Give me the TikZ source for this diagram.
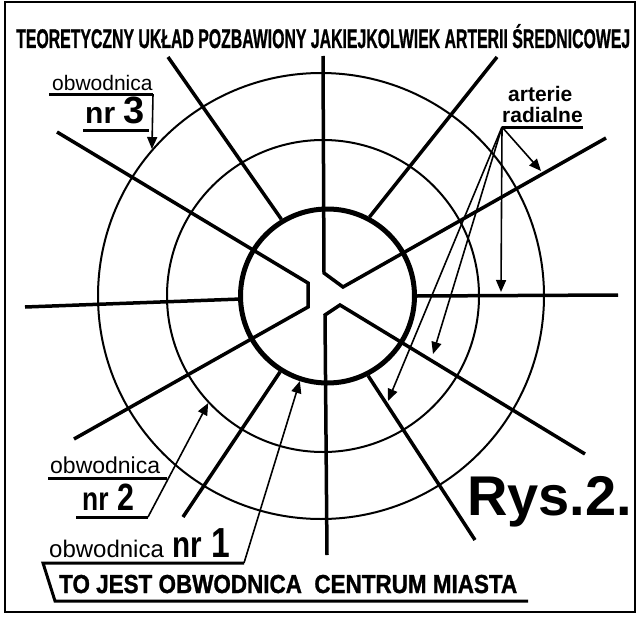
\documentclass[tikz,border=0pt]{standalone}
\usepackage{fontspec}
\usepackage{graphicx}
\setmainfont{Liberation Sans}
\newfontfamily\narrowfont[FakeStretch=0.8]{Liberation Sans}
\newfontfamily\heavyfont[FakeBold=1.2]{Liberation Sans Bold}
\usetikzlibrary{arrows.meta}
\newcommand{\fs}[1]{\fontsize{#1}{#1}\selectfont}
\newcommand{\squeeze}[2]{\resizebox{#1}{\height}{#2}}
\tikzset{
  ring/.style={circle,draw,line width=2pt,inner sep=0pt},
  centrering/.style={circle,draw,line width=5pt,inner sep=0pt},
  artery/.style={line width=3.5pt},
  underline/.style={line width=3pt},
  pointer/.style={line width=1.6pt,-{Triangle[length=12pt,width=10pt]}},
  lbl/.style={anchor=base west,inner sep=0pt},
}

\begin{document}
\begin{tikzpicture}[x=1pt,y=-1pt]
  \useasboundingbox (0,0) rectangle (640,618);
  \draw[line width=2.5pt] (5,2) rectangle (635,612);
  \node[lbl] (title) at (16,48)
    {\squeeze{614pt}{\heavyfont\fs{27}TEORETYCZNY UKŁAD POZBAWIONY JAKIEJKOLWIEK ARTERII ŚREDNICOWEJ}};

  % --- ring roads ---
  \node[centrering,minimum size=174pt] (ring1) at (327.5,296) {};
  \node[ring,minimum size=312pt] (ring2) at (323,296) {};
  \node[ring,minimum size=446pt] (ring3) at (321,296) {};

  % --- radial arteries ---
  \foreach \ang/\ex/\ey in {0/618/295, 182/25/307, 62/497/57, 121/168/57, 238/183/517, 297/475/540}
    \draw[artery] (ring1.\ang) -- (\ex,\ey);
  \draw[artery] (323,56) -- (324,273) -- (343,287) -- (606,138);
  \draw[artery] (57,132) -- (308,283) -- (308,307) -- (74,439);
  \draw[artery] (327,555) -- (325,315) -- (340,305) -- (585,454);

  % --- label: ring 3 ---
  \node[lbl] (obw3) at (52,90) {\fs{21}obwodnica};
  \node[lbl] (nr3) at (85,123) {\fs{30}\bfseries nr \fs{38}3};
  \coordinate (c3) at (153,94);
  \draw[underline] (49,94) -- (c3);
  \draw[underline] (83,130) -- (149,130);
  \draw[pointer] (c3) -- (ring3.139);

  % --- label: radial arteries ---
  \node[lbl] (arterie) at (508,102) {\fs{21}\bfseries arterie};
  \node[lbl] (radialne) at (502,122) {\fs{21}\bfseries radialne};
  \coordinate (rfoot) at (502,127);
  \draw[underline] (rfoot) -- (583,127);
  \coordinate (art30) at (541,171);
  \coordinate (art0) at (501,292);
  \coordinate (art330) at (433,354);
  \coordinate (art300) at (388,401);
  \foreach \t in {art30,art0,art330,art300}
    \draw[pointer] (rfoot) -- (\t);

  % --- label: ring 2 ---
  \node[lbl] (obw2) at (50,473) {\fs{23}obwodnica};
  \node[lbl] (nr2) at (82,510) {\narrowfont\fs{33}\bfseries nr\hspace{9pt}\fs{38}2};
  \coordinate (c2) at (148,517);
  \draw[underline] (48,478) -- (167,478);
  \draw[underline] (76,517) -- (c2);
  \draw[pointer] (c2) -- (ring2.223);

  % --- label: ring 1 ---
  \node[lbl] (obw1) at (49,557) {\fs{24}obwodnica};
  \node[lbl] (nr1) at (172,557) {\narrowfont\fs{37}\bfseries nr\hspace{10pt}\fs{42}1};
  \node[lbl] (centrum) at (59,593)
    {\squeeze{458pt}{\heavyfont\fs{26}TO JEST OBWODNICA\ \ CENTRUM MIASTA}};
  \coordinate (c1) at (244,563);
  \draw[underline] (c1) -- (43,563) -- (55,601) -- (528,601);
  \draw[pointer] (c1) -- (ring1.252);

  \node[lbl] (rys) at (467,515) {\fs{56}\bfseries Rys.2.};
\end{tikzpicture}
\end{document}
